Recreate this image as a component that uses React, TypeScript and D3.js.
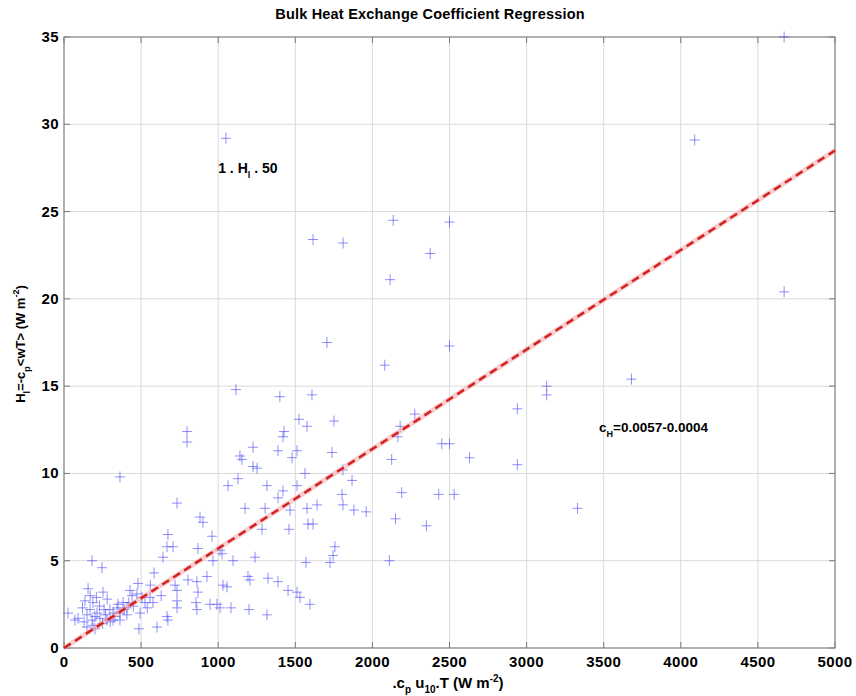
import * as d3 from "d3";

// 데이터: x = rho c_p u10 dT (W m^-2), y = H_l (W m^-2)
const xValues: number[] = [
  4670, 4090, 4670, 3680, 3330, 3130, 3130, 2940, 2940, 2630,
  2500, 2135, 2375, 2115, 2080, 2500, 2275, 2180, 2165, 2450,
  2500, 2125, 2190, 2430, 2530, 2150, 2350, 2110, 1615, 1810,
  1705, 1050, 1115, 1400, 1608, 798, 798, 1524, 1576, 1751,
  1427, 1420, 1226, 1388, 1511, 1141, 1154, 1479, 1738, 1226,
  1252, 363, 1128, 1064, 1316, 1420, 1511, 1563, 1809, 1868,
  1803, 1809, 733, 1174, 1304, 1388, 1466, 1576, 1641, 882,
  901, 960, 1284, 1459, 1582, 1615, 674, 707, 668, 642,
  869, 1012, 1025, 966, 1096, 1239, 1757, 1745, 1725, 1569,
  182, 246, 584, 804, 862, 927, 720, 733, 1193, 1206,
  1323, 1388, 1031, 1057, 869, 1453, 1511, 1530, 1595, 1316,
  1200, 1083, 992, 1012, 947, 856, 862, 733, 733, 668,
  674, 603, 577, 558, 493, 486, 480, 473, 428, 441,
  506, 525, 383, 408, 156, 253, 26, 71, 91, 149,
  188, 201, 136, 188, 169, 214, 182, 201, 149, 233,
  298, 318, 344, 363, 279, 318, 363, 408, 230, 260,
  120, 270, 330, 390, 450, 300, 250, 210, 170, 540,
  350, 420, 280, 130, 560, 630, 1880, 1960,
];
const yValues: number[] = [
  35.0, 29.1, 20.4, 15.4, 8.0, 15.0, 14.5, 13.7, 10.5, 10.9,
  24.4, 24.5, 22.6, 21.1, 16.2, 17.3, 13.4, 12.7, 12.1, 11.7,
  11.7, 10.8, 8.9, 8.8, 8.8, 7.4, 7.0, 5.0, 23.4, 23.2,
  17.5, 29.2, 14.8, 14.4, 14.5, 12.4, 11.8, 13.1, 12.7, 13.0,
  12.4, 12.1, 11.5, 11.3, 11.3, 11.0, 10.8, 10.9, 11.2, 10.4,
  10.3, 9.8, 9.7, 9.3, 9.3, 9.0, 9.3, 10.0, 10.2, 9.6,
  8.8, 8.2, 8.3, 8.0, 8.0, 8.6, 7.9, 8.0, 8.2, 7.5,
  7.2, 6.4, 6.8, 6.8, 7.1, 7.1, 6.5, 5.8, 5.8, 5.2,
  5.7, 5.6, 5.4, 5.0, 5.0, 5.2, 5.8, 5.3, 4.9, 4.9,
  5.0, 4.6, 4.3, 3.9, 3.8, 4.1, 3.6, 3.3, 4.1, 3.9,
  4.0, 3.8, 3.6, 3.5, 3.2, 3.3, 3.2, 2.9, 2.5, 1.9,
  2.2, 2.3, 2.5, 2.3, 2.5, 2.6, 2.2, 2.7, 2.3, 1.8,
  1.6, 1.2, 2.6, 2.9, 2.0, 1.1, 3.7, 3.1, 3.3, 3.0,
  2.9, 2.6, 2.6, 2.3, 3.4, 3.2, 2.0, 1.6, 1.7, 1.2,
  1.3, 1.1, 2.7, 2.6, 2.2, 2.0, 1.6, 1.8, 1.9, 1.7,
  2.2, 2.0, 2.3, 2.0, 1.6, 1.6, 1.6, 1.9, 2.4, 2.2,
  2.3, 1.9, 1.8, 2.2, 2.4, 1.5, 1.4, 2.9, 3.0, 2.3,
  2.5, 2.6, 2.8, 1.5, 3.6, 3.0, 7.9, 7.8,
];
const xTicks = [0, 500, 1000, 1500, 2000, 2500, 3000, 3500, 4000, 4500, 5000];
const yTicks = [0, 5, 10, 15, 20, 25, 30, 35];
const fitSlope = 0.0057;
const fitRange = [0, 5000];

const W = 856;
const H = 696;
const margin = { top: 37, right: 21, bottom: 48, left: 64 };
const font = "'Liberation Sans', Arial, sans-serif";

const App = () => {
  const innerW = W - margin.left - margin.right;
  const innerH = H - margin.top - margin.bottom;

  const xScale = d3.scaleLinear().domain([0, 5000]).range([0, innerW]);
  const yScale = d3.scaleLinear().domain([0, 35]).range([innerH, 0]);

  const fitLine = d3
    .line<number>()
    .x((d) => xScale(d))
    .y((d) => yScale(d * fitSlope));

  const points = xValues.map((x, i) => ({ x, y: yValues[i] }));

  return (
    <svg
      width={W}
      height={H}
      style={{ position: "absolute", left: 0, top: 0, background: "#fff" }}
      fontFamily={font}
    >
      <text x={430} y={19} textAnchor="middle" fontSize={14.5} fontWeight="bold" letterSpacing={0.2}>
        Bulk Heat Exchange Coefficient Regression
      </text>
      <g transform={`translate(${margin.left},${margin.top})`}>
        {/* 격자 */}
        {xTicks.map((t) => (
          <line key={"gx" + t} x1={xScale(t)} x2={xScale(t)} y1={0} y2={innerH} stroke="#dadada" strokeWidth={1} />
        ))}
        {yTicks.map((t) => (
          <line key={"gy" + t} x1={0} x2={innerW} y1={yScale(t)} y2={yScale(t)} stroke="#dadada" strokeWidth={1} />
        ))}
        {/* 눈금 */}
        {xTicks.map((t) => (
          <g key={"tx" + t}>
            <line x1={xScale(t)} x2={xScale(t)} y1={innerH} y2={innerH - 6} stroke="#777" />
            <line x1={xScale(t)} x2={xScale(t)} y1={0} y2={6} stroke="#777" />
            <text x={xScale(t)} y={innerH + 19} textAnchor="middle" fontSize={15} fontWeight="bold" letterSpacing={0.4}>
              {t}
            </text>
          </g>
        ))}
        {yTicks.map((t) => (
          <g key={"ty" + t}>
            <line x1={0} x2={6} y1={yScale(t)} y2={yScale(t)} stroke="#777" />
            <line x1={innerW} x2={innerW - 6} y1={yScale(t)} y2={yScale(t)} stroke="#777" />
            <text x={-5} y={yScale(t) + 5} textAnchor="end" fontSize={15} fontWeight="bold" letterSpacing={0.4}>
              {t}
            </text>
          </g>
        ))}
        <rect x={0} y={0} width={innerW} height={innerH} fill="none" stroke="#888" strokeWidth={1.2} />

        {/* 데이터 포인트 */}
        {points.map((d, i) => (
          <path
            key={i}
            transform={`translate(${xScale(d.x)},${yScale(d.y)})`}
            d="M-5,0H5M0,-5.5V5.5"
            stroke="#4646f5"
            strokeOpacity={0.6}
            strokeWidth={1}
            fill="none"
          />
        ))}

        {/* 회귀선 */}
        <path d={fitLine(fitRange) || ""} fill="none" stroke="#f4a0a0" strokeWidth={5} strokeOpacity={0.5} />
        <path
          d={fitLine(fitRange) || ""}
          fill="none"
          stroke="#d42020"
          strokeWidth={2.5}
          strokeDasharray="8,5"
        />

        {/* 주석 */}
        <text x={xScale(1000)} y={yScale(27.2)} fontSize={14} fontWeight="bold">
          1 . H<tspan dy={5} fontSize={9}>l</tspan>
          <tspan dy={-5}> . 50</tspan>
        </text>
        <text x={xScale(3470)} y={yScale(12.4)} fontSize={13.5} fontWeight="bold">
          c<tspan dy={5} fontSize={9}>H</tspan>
          <tspan dy={-5}>=0.0057-0.0004</tspan>
        </text>
      </g>

      {/* 축 제목 */}
      <text x={448} y={688} textAnchor="middle" fontSize={15} fontWeight="bold">
        .c<tspan dy={5} fontSize={10}>p</tspan>
        <tspan dy={-5}> u</tspan>
        <tspan dy={5} fontSize={10}>10</tspan>
        <tspan dy={-5}>.T (W m</tspan>
        <tspan dy={-6} fontSize={10}>-2</tspan>
        <tspan dy={6}>)</tspan>
      </text>
      <text
        transform="translate(25,344) rotate(-90)"
        textAnchor="middle"
        fontSize={13}
        fontWeight="bold"
      >
        H<tspan dy={5} fontSize={9}>l</tspan>
        <tspan dy={-5}>=-c</tspan>
        <tspan dy={5} fontSize={9}>p</tspan>
        <tspan dy={-5}>{"<wT> (W m"}</tspan>
        <tspan dy={-6} fontSize={9}>-2</tspan>
        <tspan dy={6}>)</tspan>
      </text>
    </svg>
  );
};

export default App;
